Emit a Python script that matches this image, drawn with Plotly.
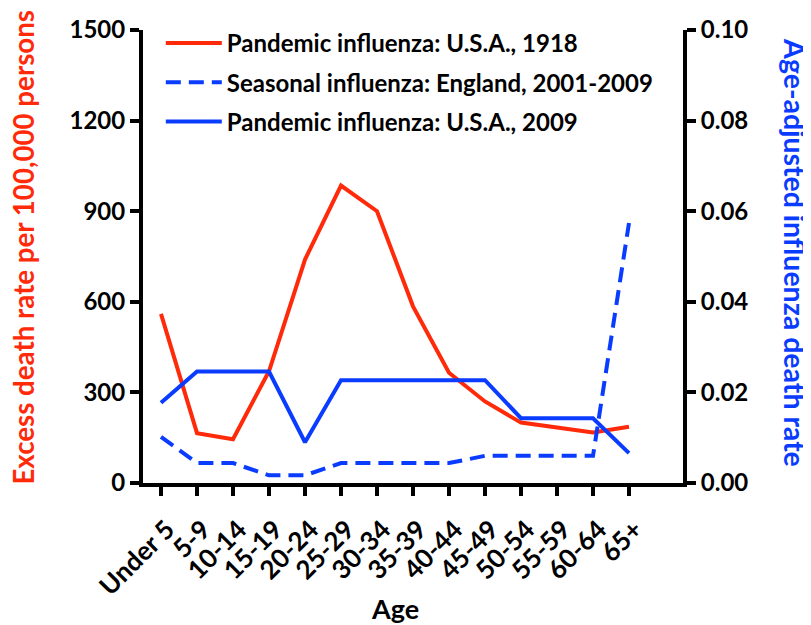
import plotly.graph_objects as go

ages = ["Under 5", "5-9", "10-14", "15-19", "20-24", "25-29", "30-34", "35-39",
        "40-44", "45-49", "50-54", "55-59", "60-64", "65+"]
pandemic_1918 = [560, 165, 145, 370, 740, 985, 900, 585, 365, 270, 200, 185, 167, 186]
seasonal_england = [0.0102, 0.0044, 0.0044, 0.0017, 0.0017, 0.0044, 0.0044, 0.0044,
                    0.0044, 0.0060, 0.0060, 0.0060, 0.0060, 0.0574]
pandemic_2009 = [0.0177, 0.0246, 0.0246, 0.0246, 0.0090, 0.0227, 0.0227, 0.0227,
                 0.0227, 0.0227, 0.0143, 0.0143, 0.0143, 0.0066]
left_ticks = [0, 300, 600, 900, 1200, 1500]
right_ticks = [0.0, 0.02, 0.04, 0.06, 0.08, 0.10]
right_ticklabels = ["0.00", "0.02", "0.04", "0.06", "0.08", "0.10"]

RED = "#ff2a0a"
BLUE = "#0a3cff"
FONT = "Lato"
x = list(range(len(ages)))

fig = go.Figure()
fig.add_trace(go.Scatter(x=x, y=pandemic_1918, mode="lines", name="Pandemic influenza: U.S.A., 1918",
                         line=dict(color=RED, width=4), legendgroup="a"))
fig.add_trace(go.Scatter(x=x, y=seasonal_england, mode="lines", name="Seasonal influenza: England, 2001-2009",
                         line=dict(color=BLUE, width=4, dash="15px,8px"), yaxis="y2", legendgroup="b"))
fig.add_trace(go.Scatter(x=x, y=pandemic_2009, mode="lines", name="Pandemic influenza: U.S.A., 2009",
                         line=dict(color=BLUE, width=4), yaxis="y2", legendgroup="c"))

axis_common = dict(showline=True, linecolor="black", linewidth=4, ticks="outside",
                   tickwidth=4, ticklen=9, tickcolor="black", showgrid=False, zeroline=False,
                   automargin=False)

fig.update_layout(
    width=811, height=625,
    margin=dict(l=135, r=136, t=22, b=150),
    plot_bgcolor="white", paper_bgcolor="white",
    font=dict(family=FONT, color="black"),
    showlegend=True,
    legend=dict(x=0.033, y=1.02, xanchor="left", yanchor="top", bgcolor="rgba(0,0,0,0)",
                font=dict(family=FONT, size=24, color="black", weight="bold"),
                tracegroupgap=5, itemwidth=56),
    xaxis=dict(**axis_common, range=[-0.5, 14.5], tickmode="array", tickvals=x, ticktext=ages,
               tickangle=-45, tickfont=dict(family=FONT, size=26, weight="bold"),
               ticklabelshift=6, ticklabelstandoff=8),
    yaxis=dict(**axis_common, range=[0, 1500], tickmode="array", tickvals=left_ticks,
               tickfont=dict(family=FONT, size=24, weight="bold")),
    yaxis2=dict(**axis_common, range=[0, 0.10], overlaying="y", side="right", tickmode="array",
                tickvals=right_ticks, ticktext=right_ticklabels,
                tickfont=dict(family=FONT, size=24, weight="bold")),
    annotations=[
        dict(text="Excess death rate per 100,000 persons", xref="paper", yref="paper",
             x=-0.222, y=0.52, xanchor="center", yanchor="middle", textangle=-90, showarrow=False,
             font=dict(family=FONT, size=27.7, color=RED, weight="bold")),
        dict(text="Age-adjusted influenza death rate", xref="paper", yref="paper",
             x=1.207, y=0.508, xanchor="center", yanchor="middle", textangle=90, showarrow=False,
             font=dict(family=FONT, size=28.5, color=BLUE, weight="bold")),
        dict(text="Age", xref="paper", yref="paper", x=0.467, y=-0.276, xanchor="center",
             yanchor="middle", showarrow=False,
             font=dict(family=FONT, size=27, color="black", weight="bold")),
    ],
)

fig.write_html("out.html")
